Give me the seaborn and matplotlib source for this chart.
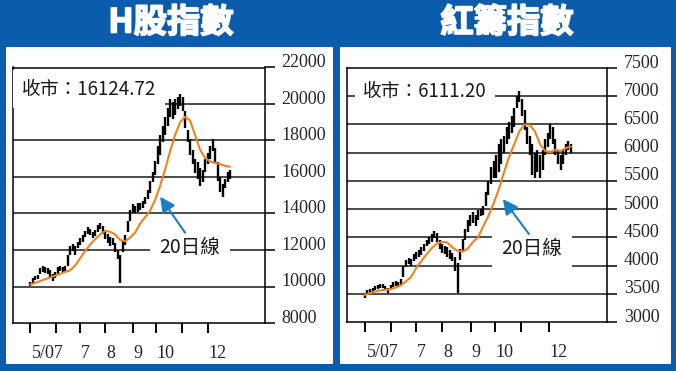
import matplotlib
matplotlib.use("Agg")
import matplotlib.pyplot as plt
import matplotlib.transforms as mtransforms
import matplotlib.patheffects as pe
from matplotlib.patches import Rectangle
import numpy as np
import pandas as pd
import seaborn as sns

# ---------------- data ----------------
h_high = [10250, 10450, 10550, 10650, 11000, 11100, 11050, 11000, 10900, 10700,
          10800, 11050, 11100, 11050, 11150, 11700, 12200, 12350, 12200, 12450,
          12650, 12800, 13050, 13250, 13150, 13000, 13100, 13350, 13500, 13300,
          13000, 12850, 12700, 12650, 12400, 12000, 11700, 12500, 12800, 13600,
          14200, 14500, 14400, 14550, 14600, 14700, 14900, 15300, 15800, 16300,
          16900, 17700, 18300, 18800, 19300, 19800, 20300, 20100, 20300, 20400,
          20550, 20400, 19600, 18600, 18100, 17500, 17000, 16800, 16500, 16400,
          17000, 17300, 17700, 18100, 17600, 16800, 16000, 15600, 15900, 16250,
          16400]
h_low = [10050, 10200, 10350, 10400, 10700, 10800, 10750, 10700, 10500, 10300,
         10450, 10700, 10850, 10800, 10850, 11100, 11700, 11950, 11700, 12100,
         12300, 12450, 12700, 12900, 12800, 12650, 12750, 13000, 13150, 12850,
         12600, 12400, 12200, 12300, 11900, 11500, 10200, 11900, 12300, 13000,
         13600, 14000, 14050, 14100, 14200, 14300, 14500, 14800, 15100, 15700,
         16100, 16700, 17200, 17900, 18300, 18800, 19300, 19200, 19400, 19700,
         19900, 19600, 18700, 17900, 17200, 16700, 16200, 15900, 15500, 15700,
         16300, 16700, 17000, 17400, 16800, 15800, 15200, 14900, 15400, 15700,
         15900]
# 20-day line, every second bar
h_ma = [10100, 10200, 10300, 10400, 10490, 10600, 10700, 10800, 10880, 11150,
        11550, 11950, 12300, 12600, 12850, 13050, 13000, 12850, 12550, 12480,
        12680, 12950, 13450, 13800, 14150, 14750, 15500, 16400, 17400, 18300,
        19000, 19300, 19100, 18300, 17500, 17050, 16850, 16780, 16700, 16620,
        16560]

r_high = [3500, 3560, 3580, 3600, 3640, 3660, 3680, 3670, 3640, 3600,
          3660, 3700, 3720, 3700, 3760, 4000, 4100, 4130, 4120, 4200,
          4240, 4280, 4320, 4380, 4460, 4500, 4560, 4620, 4580, 4450,
          4380, 4350, 4320, 4280, 4230, 4150, 4050, 4300, 4470, 4650,
          4800, 4900, 4950, 4900, 4980, 5000, 5050, 5300, 5500, 5750,
          5850, 5950, 6150, 6250, 6300, 6450, 6550, 6650, 6800, 7000,
          7100, 6950, 6750, 6450, 6300, 6150, 6000, 6050, 5950, 6050,
          6250, 6350, 6500, 6450, 6250, 6050, 5950, 6050, 6150, 6200,
          6150]
r_low = [3420, 3470, 3500, 3520, 3560, 3580, 3600, 3600, 3560, 3520,
         3580, 3620, 3640, 3620, 3660, 3800, 3980, 4020, 4000, 4080,
         4120, 4150, 4180, 4250, 4350, 4380, 4420, 4480, 4420, 4300,
         4220, 4200, 4150, 4120, 4080, 3900, 3520, 4100, 4250, 4450,
         4600, 4700, 4750, 4700, 4800, 4880, 4900, 5050, 5250, 5450,
         5550, 5550, 5650, 5800, 6000, 6150, 6250, 6350, 6450, 6800,
         6900, 6650, 6400, 6150, 5950, 5600, 5550, 5650, 5550, 5700,
         5950, 6100, 6250, 6150, 5950, 5800, 5700, 5800, 5950, 6050,
         6000]
r_ma = [3480, 3510, 3540, 3560, 3570, 3580, 3610, 3650, 3720, 3800,
        3960, 4080, 4200, 4310, 4390, 4420, 4410, 4320, 4260, 4250,
        4300, 4420, 4500, 4700, 4880, 5100, 5350, 5650, 5920, 6150,
        6380, 6500, 6490, 6380, 6150, 6030, 6010, 6050, 6030, 6080,
        6110]

month_labels = ["5/07", "7", "8", "9", "10", "12"]
month_label_idx = [6.9, 22.0, 32.1, 43.0, 54.2, 75.1]
month_tick_idx = [0, 10.25, 19.9, 30, 41.2, 50.5, 60.7, 71.3]

h_yticks = [8000, 10000, 12000, 14000, 16000, 18000, 20000, 22000]
h_grid = [10000, 12000, 14000, 16000, 18000, 20000]
r_yticks = [3000, 3500, 4000, 4500, 5000, 5500, 6000, 6500, 7000, 7500]
r_grid = [3500, 4000, 4500, 5000, 5500, 6000, 6500, 7000]

titles = ["H股指數", "紅籌指數"]
close_texts = ["收市：16124.72", "收市：6111.20"]
ma_label = "20日線"

# ---------------- style ----------------
sns.set_style("white")
plt.rcParams["font.family"] = ["Noto Sans CJK TC", "DejaVu Sans"]

BLUE = "#0b5cad"
ARROW = "#1b7fc3"
ORANGE = "#f0821e"
W, H = 676, 371
CJK = ["Noto Sans CJK TC", "DejaVu Sans"]
SERIF = ["Liberation Serif", "DejaVu Serif"]

fig = plt.figure(figsize=(W / 100, H / 100), dpi=100, facecolor=BLUE)


def px_rect(x0, y0, x1, y1):
    return [x0 / W, 1 - y1 / H, (x1 - x0) / W, (y1 - y0) / H]


# white panels
for (x0, y0, x1, y1) in [(6, 47, 333, 364), (340, 47, 671, 364)]:
    r = px_rect(x0, y0, x1, y1)
    fig.add_artist(Rectangle((r[0], r[1]), r[2], r[3], transform=fig.transFigure,
                             facecolor="white", edgecolor="none", zorder=0))

for tx, title in zip([171, 507], titles):
    fig.text(tx / W, 1 - 23 / H, title, color="white", fontsize=24,
             fontweight="heavy", ha="center", va="center", family=CJK,
             path_effects=[pe.withStroke(linewidth=1.2, foreground="white")])

panels = [
    dict(rect=px_rect(13, 67.5, 265, 323), high=h_high, low=h_low, ma=h_ma,
         yt=h_yticks, grid=h_grid, ylim=(8000, 22000), close=close_texts[0],
         close_pos=(-3.4, 20820), ma_text=(64.0, 12130),
         arrow_tail=(62.0, 12950), arrow_head=(52.0, 14920)),
    dict(rect=px_rect(347, 68, 607, 322), high=r_high, low=r_low, ma=r_ma,
         yt=r_yticks, grid=r_grid, ylim=(3000, 7500), close=close_texts[1],
         close_pos=(-0.6, 7087), ma_text=(64.9, 4295),
         arrow_tail=(63.7, 4560), arrow_head=(53.6, 5178)),
]

for p in panels:
    ax = fig.add_axes(p["rect"])
    ax.set_facecolor("white")
    n = len(p["high"])
    idx = np.arange(n)
    df = pd.DataFrame({"i": idx, "high": p["high"], "low": p["low"]})
    ma_df = pd.DataFrame({"i": idx[::2][:len(p["ma"])], "ma": p["ma"]})

    for g in p["grid"]:
        ax.axhline(g, color="#1a1a1a", lw=1.1, zorder=1)

    ax.vlines(df["i"], df["low"], df["high"], color="black", lw=1.7, zorder=3)
    sns.lineplot(data=ma_df, x="i", y="ma", ax=ax, color=ORANGE, lw=1.5,
                 zorder=4, legend=False)

    ax.set_xlim(-6.9, 94)
    ax.set_ylim(*p["ylim"])
    ax.set_xlabel("")
    ax.set_ylabel("")

    # x ticks: marks at month boundaries, labels as minor ticks
    ax.set_xticks(month_tick_idx)
    ax.set_xticklabels([])
    ax.set_xticks(month_label_idx, minor=True)
    ax.set_xticklabels(month_labels, minor=True, family=SERIF, fontsize=13)
    ax.tick_params(axis="x", which="major", direction="out", length=7,
                   width=1.4, color="black", bottom=True, top=False)
    ax.tick_params(axis="x", which="minor", length=0, pad=16)

    # y ticks on right
    ax.yaxis.tick_right()
    ax.set_yticks(p["yt"])
    ax.set_yticklabels([str(v) for v in p["yt"]], family=SERIF, fontsize=13)
    ax.tick_params(axis="y", which="major", direction="out", length=7.5,
                   width=1.1, color="black", pad=4.5, left=False, right=True)
    off = mtransforms.ScaledTranslation(0, 5 / 72, fig.dpi_scale_trans)
    for lab in ax.get_yticklabels():
        lab.set_transform(lab.get_transform() + off)

    for s in ax.spines.values():
        s.set_visible(True)
        s.set_color("black")
        s.set_linewidth(1.1)

    ax.text(p["close_pos"][0], p["close_pos"][1], p["close"], fontsize=13.5,
            ha="left", va="center", color="#1a1a1a", family=CJK, zorder=6,
            bbox=dict(boxstyle="square,pad=0.45", facecolor="white",
                      edgecolor="none"))
    ax.text(p["ma_text"][0], p["ma_text"][1], ma_label, fontsize=14,
            ha="center", va="center", color="#1a1a1a", family=CJK, zorder=6,
            bbox=dict(boxstyle="square,pad=0.5", facecolor="white",
                      edgecolor="none"))
    ax.annotate("", xy=p["arrow_head"], xytext=p["arrow_tail"],
                arrowprops=dict(arrowstyle="-|>,head_length=0.9,head_width=0.45",
                                color=ARROW, lw=1.5, shrinkA=0, shrinkB=0),
                zorder=7)

fig.savefig("out.png", dpi=100, facecolor=BLUE)
